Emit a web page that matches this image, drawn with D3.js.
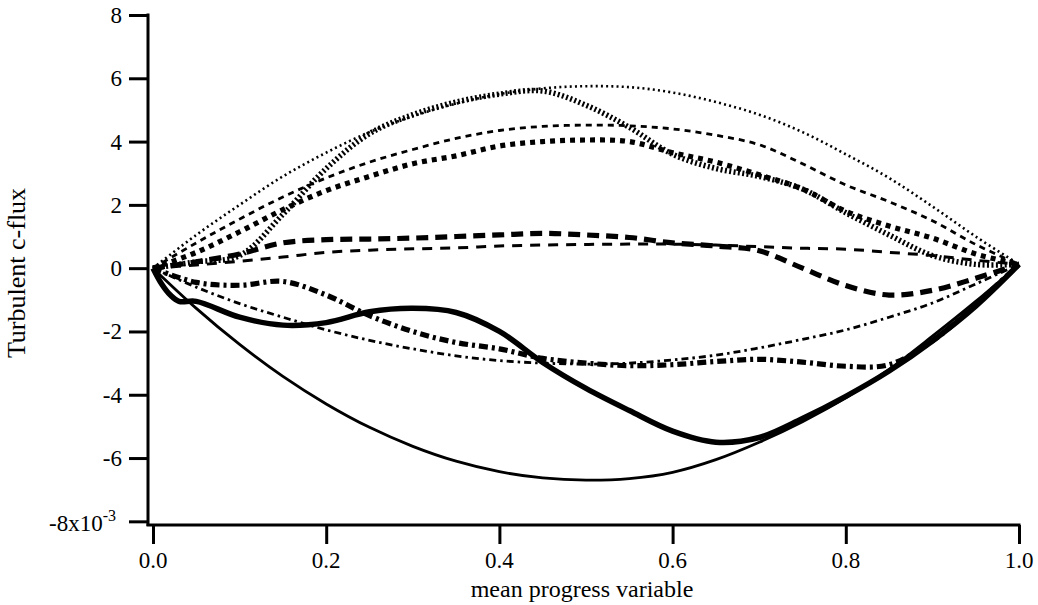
<!DOCTYPE html>
<html><head><meta charset="utf-8">
<script src="https://cdn.jsdelivr.net/npm/d3@7"></script>
<style>
html,body{margin:0;padding:0;background:#fff;}
svg{display:block;font-family:"Liberation Serif","Times New Roman",serif;}
</style></head>
<body><svg id="c" width="1038" height="605"></svg>
<script>
// ---- data (turbulent c-flux, units of 1e-3) ----
const xGrid = [0,0.05,0.1,0.15,0.2,0.25,0.3,0.35,0.4,0.45,0.5,0.55,0.6,0.65,0.7,0.75,0.8,0.85,0.9,0.95,1];
const fineDotted   = [0,1.05,2.0,2.9,3.65,4.3,4.8,5.2,5.5,5.68,5.75,5.72,5.55,5.25,4.85,4.3,3.6,2.85,1.95,1.0,0.12];
const thinDashed   = [0,0.8,1.55,2.25,2.85,3.35,3.75,4.1,4.35,4.48,4.52,4.5,4.4,4.2,3.9,3.3,2.63,2.1,1.5,0.75,0.12];
const squareDots   = [0,0.5,1.15,1.85,2.45,2.9,3.3,3.55,3.86,4.0,4.05,4.0,3.65,3.35,2.95,2.5,1.8,1.33,0.95,0.45,0.12];
const denseDots    = [0,0.2,0.4,1.7,3.15,4.25,4.85,5.25,5.5,5.6,5.15,4.45,3.6,3.15,2.9,2.5,1.75,1.05,0.4,0.12,0.12];
const thickDashed  = [0,0.2,0.45,0.8,0.9,0.92,0.95,1.0,1.05,1.1,1.05,0.97,0.8,0.7,0.55,0.0,-0.55,-0.85,-0.7,-0.32,0.12];
const longDashed   = [0,0.1,0.22,0.35,0.5,0.57,0.61,0.64,0.7,0.73,0.75,0.76,0.76,0.73,0.68,0.63,0.6,0.5,0.4,0.25,0.12];
const thickDashDot = [0,-0.45,-0.54,-0.42,-0.85,-1.5,-2.0,-2.35,-2.55,-2.85,-3.0,-3.08,-3.05,-2.95,-2.88,-2.97,-3.1,-3.05,-2.3,-1.15,0.12];
const thinDashDot  = [0,-0.6,-1.12,-1.55,-1.95,-2.28,-2.55,-2.77,-2.92,-3.0,-3.03,-3.0,-2.9,-2.75,-2.52,-2.25,-1.95,-1.55,-1.1,-0.5,0.12];
const thinSolid    = [0,-1.27,-2.41,-3.42,-4.29,-5.03,-5.63,-6.1,-6.43,-6.63,-6.7,-6.65,-6.45,-6.05,-5.5,-4.85,-4.1,-3.2,-2.15,-1.05,0.12];
const xThick       = [0,0.01,0.02,0.03,0.05,0.1,0.15,0.2,0.25,0.3,0.35,0.4,0.45,0.5,0.55,0.6,0.65,0.7,0.75,0.8,0.85,0.9,0.95,1];
const thickSolid   = [0,-0.5,-0.85,-1.05,-1.05,-1.55,-1.8,-1.72,-1.38,-1.27,-1.4,-2.0,-2.98,-3.8,-4.5,-5.15,-5.5,-5.35,-4.75,-4.05,-3.25,-2.3,-1.2,0.12];
const xTicks = [0,0.2,0.4,0.6,0.8,1.0];
const yTicks = [8,6,4,2,0,-2,-4,-6,-8];
const xTitle = "mean progress variable";
const yTitle = "Turbulent c-flux";

const series = [
  {xs:xGrid, ys:fineDotted,   w:2.6, dash:"2,3.2"},
  {xs:xGrid, ys:thinDashed,   w:2.8, dash:"6,5"},
  {xs:xGrid, ys:squareDots,   w:5.2, dash:"5,5"},
  {xs:xGrid, ys:denseDots,    w:5.5, dash:"2,2.4"},
  {xs:xGrid, ys:thickDashed,  w:5.2, dash:"12,7"},
  {xs:xGrid, ys:longDashed,   w:3,   dash:"10,8"},
  {xs:xGrid, ys:thickDashDot, w:5.2, dash:"9,4,3,4"},
  {xs:xGrid, ys:thinDashDot,  w:2.8, dash:"7,4,2.5,4"},
  {xs:xGrid, ys:thinSolid,    w:2.8, dash:null},
  {xs:xThick, ys:thickSolid,  w:5.5, dash:null}
];

const svg = d3.select("#c");
const x = d3.scaleLinear().domain([0,1]).range([153,1019]);
const y = d3.scaleLinear().domain([-8.1,8]).range([524.5,15]);

const line = d3.line().x(d=>x(d[0])).y(d=>y(d[1])).curve(d3.curveCatmullRom.alpha(0.5));
svg.append("g").selectAll("path").data(series).join("path")
  .attr("d", s => line(s.xs.map((v,i)=>[v,s.ys[i]])))
  .attr("fill","none").attr("stroke","#000")
  .attr("stroke-width", s=>s.w)
  .attr("stroke-dasharray", s=>s.dash)
  .attr("stroke-linejoin","round");

// axes
const axY = d3.axisLeft(y).tickValues(yTicks).tickSize(19).tickSizeOuter(0).tickFormat(()=>"");
const gy = svg.append("g").attr("transform","translate(148,0)").call(axY);
gy.select(".domain").remove();
gy.selectAll(".tick line").attr("stroke","#000").attr("stroke-width",3);
svg.append("line").attr("x1",148).attr("x2",148).attr("y1",y(8)-1.5).attr("y2",526).attr("stroke","#000").attr("stroke-width",3);

const axX = d3.axisBottom(x).tickValues(xTicks).tickSize(19).tickSizeOuter(0).tickFormat(()=>"");
const gx = svg.append("g").attr("transform","translate(0,525)").call(axX);
gx.select(".domain").remove();
gx.selectAll(".tick line").attr("stroke","#000").attr("stroke-width",3);
svg.append("line").attr("x1",146.5).attr("x2",x(1)+1.5).attr("y1",525).attr("y2",525).attr("stroke","#000").attr("stroke-width",3);

// tick labels
const yl = svg.append("g").attr("font-size",23).attr("text-anchor","end");
yTicks.forEach(t=>{
  const tx = yl.append("text").attr("x",122).attr("y",y(t)+8);
  if(t===-8){
    tx.attr("x",116).attr("y",y(t)+10);
    tx.append("tspan").text("-8x10");
    tx.append("tspan").attr("dy",-10).attr("font-size",16).text("-3");
  } else tx.text(String(t));
});
const xl = svg.append("g").attr("font-size",23).attr("text-anchor","middle");
xTicks.forEach(t=>{
  xl.append("text").attr("x",x(t)).attr("y",568).text(t.toFixed(1));
});
svg.append("text").attr("x",582).attr("y",597).attr("text-anchor","middle").attr("font-size",24).text(xTitle);
svg.append("text").attr("transform","translate(25,273) rotate(-90)").attr("text-anchor","middle").attr("font-size",26).text(yTitle);
</script></body></html>
